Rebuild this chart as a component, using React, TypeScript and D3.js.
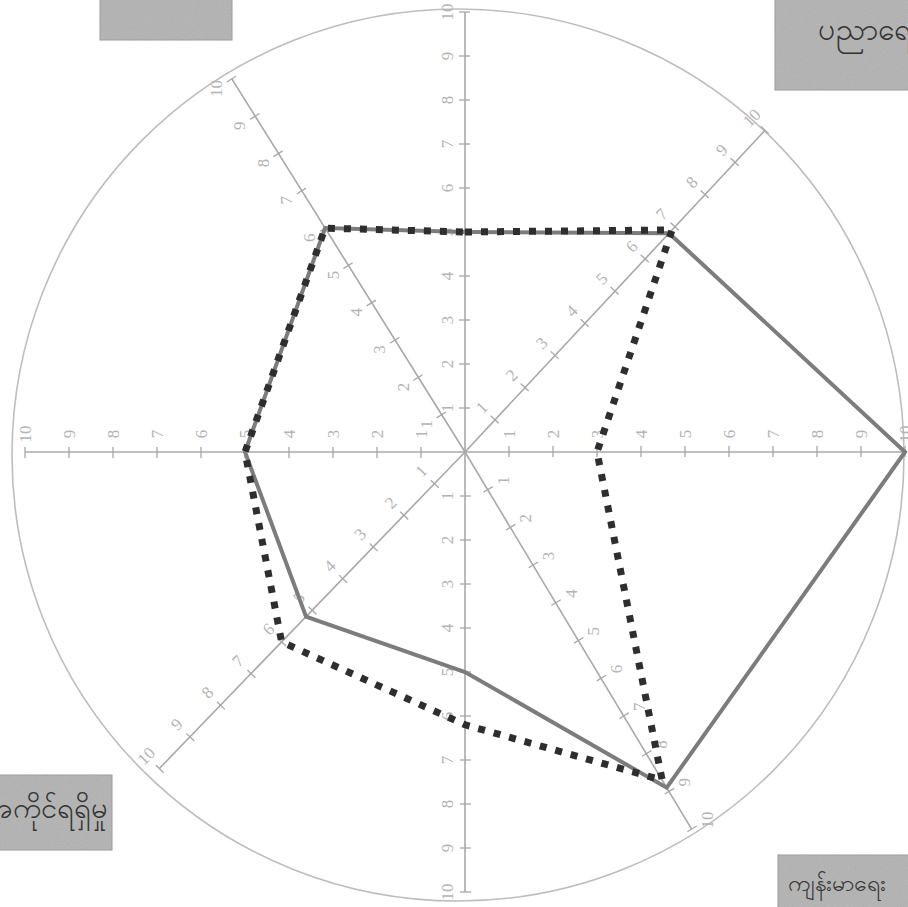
import * as d3 from "d3"

// axes, clockwise from 12 o'clock (degrees) — the scanned chart is not symmetric
const axisAngles = [0, 43, 90, 149, 180, 224, 270, 328]
// which side of each axis its tick numbers sit on (1 = counter-clockwise side)
const labelSide = [1, 1, 1, 1, -1, -1, -1, 1]
const labelTurn = [-90, -45, -90, -90, -90, -45, -90, -90]
const tickValues = [1, 2, 3, 4, 5, 6, 7, 8, 9, 10]

const solidValues = [5, 6.8, 10, 8.9, 5, 5.2, 5, 6]
const dottedValues = [5, 6.9, 3, 8.7, 6.2, 6, 5, 6]

const boxTexts = ["", "ပညာရေး", "အလုပ်အကိုင်ရရှိမှု", "ကျန်းမာရေး"]

const W = 908
const H = 907
const cx = 465
const cy = 452

export default function App() {
  const r = d3.scaleLinear().domain([0, 10]).range([0, 440])
  const rad = (deg: number) => (deg * Math.PI) / 180

  const radar = d3
    .lineRadial<number>()
    .angle((_, i) => rad(axisAngles[i]))
    .radius((d) => r(d))
    .curve(d3.curveLinearClosed)

  const pt = (a: number, v: number, off = 0): [number, number] => {
    const t = rad(a)
    // unit vector along the axis plus counter-clockwise normal
    const ux = Math.sin(t)
    const uy = -Math.cos(t)
    const nx = -Math.cos(t)
    const ny = -Math.sin(t)
    return [r(v) * ux + off * nx, r(v) * uy + off * ny]
  }

  return (
    <div style={{ position: "absolute", left: 0, top: 0 }}>
      <svg width={W} height={H} style={{ display: "block", background: "#fff" }}>
        <defs>
          <filter id="grain">
            <feTurbulence type="fractalNoise" baseFrequency="0.9" numOctaves="1" result="n" />
            <feColorMatrix type="saturate" values="0" in="n" result="g" />
            <feComponentTransfer in="g" result="g2">
              <feFuncA type="linear" slope="0.25" />
            </feComponentTransfer>
            <feComposite in="g2" in2="SourceGraphic" operator="in" result="m" />
            <feMerge>
              <feMergeNode in="SourceGraphic" />
              <feMergeNode in="m" />
            </feMerge>
          </filter>
        </defs>

        {/* outer circle */}
        <circle cx={458} cy={455} r={446} fill="none" stroke="#bdbdbd" strokeWidth={1.6} />

        <g transform={`translate(${cx},${cy})`}>
          {axisAngles.map((a, i) => {
            const [x2, y2] = pt(a, 10)
            return (
              <g key={"ax" + i}>
                <line x1={0} y1={0} x2={x2} y2={y2} stroke="#a8a8a8" strokeWidth={1.6} />
                {tickValues.map((v) => {
                  const [ax, ay] = pt(a, v, -5)
                  const [bx, by] = pt(a, v, 6)
                  const [lx, ly] = pt(a, v, 18 * labelSide[i])
                  return (
                    <g key={v}>
                      <line x1={ax} y1={ay} x2={bx} y2={by} stroke="#a8a8a8" strokeWidth={1.3} />
                      <text
                        transform={`translate(${lx},${ly}) rotate(${labelTurn[i]})`}
                        textAnchor="middle"
                        dominantBaseline="central"
                        fontFamily="Liberation Serif"
                        fontSize={17}
                        fill="#b4b4b4"
                      >
                        {v}
                      </text>
                    </g>
                  )
                })}
              </g>
            )
          })}

          <path d={radar(solidValues) ?? ""} fill="none" stroke="#7c7c7c" strokeWidth={4} strokeLinejoin="miter" />
          <path
            d={radar(dottedValues) ?? ""}
            fill="none"
            stroke="#2e2e2e"
            strokeWidth={7}
            strokeDasharray="7 9"
            strokeLinejoin="miter"
          />
        </g>

        {/* category boxes, clipped by the page edge as in the scan */}
        <g filter="url(#grain)">
          <rect x={100} y={-2} width={132} height={42} fill="#b2b2b2" stroke="#9a9a9a" />
          <rect x={775} y={-2} width={140} height={92} fill="#b2b2b2" stroke="#9a9a9a" />
          <rect x={-2} y={775} width={114} height={75} fill="#b2b2b2" stroke="#9a9a9a" />
          <rect x={778} y={855} width={140} height={60} fill="#b2b2b2" stroke="#9a9a9a" />
        </g>
        <text x={166} y={28} textAnchor="middle" fontFamily="Noto Sans" fontSize={26} fill="#333">
          {boxTexts[0]}
        </text>
        <text x={818} y={40} fontFamily="Noto Sans" fontSize={30} fill="#333">
          {boxTexts[1]}
        </text>
        <text x={108} y={818} textAnchor="end" fontFamily="Noto Sans" fontSize={29} fill="#333">
          {boxTexts[2]}
        </text>
        <text x={788} y={891} fontFamily="Noto Sans" fontSize={23} fill="#333">
          {boxTexts[3]}
        </text>
      </svg>
    </div>
  )
}
